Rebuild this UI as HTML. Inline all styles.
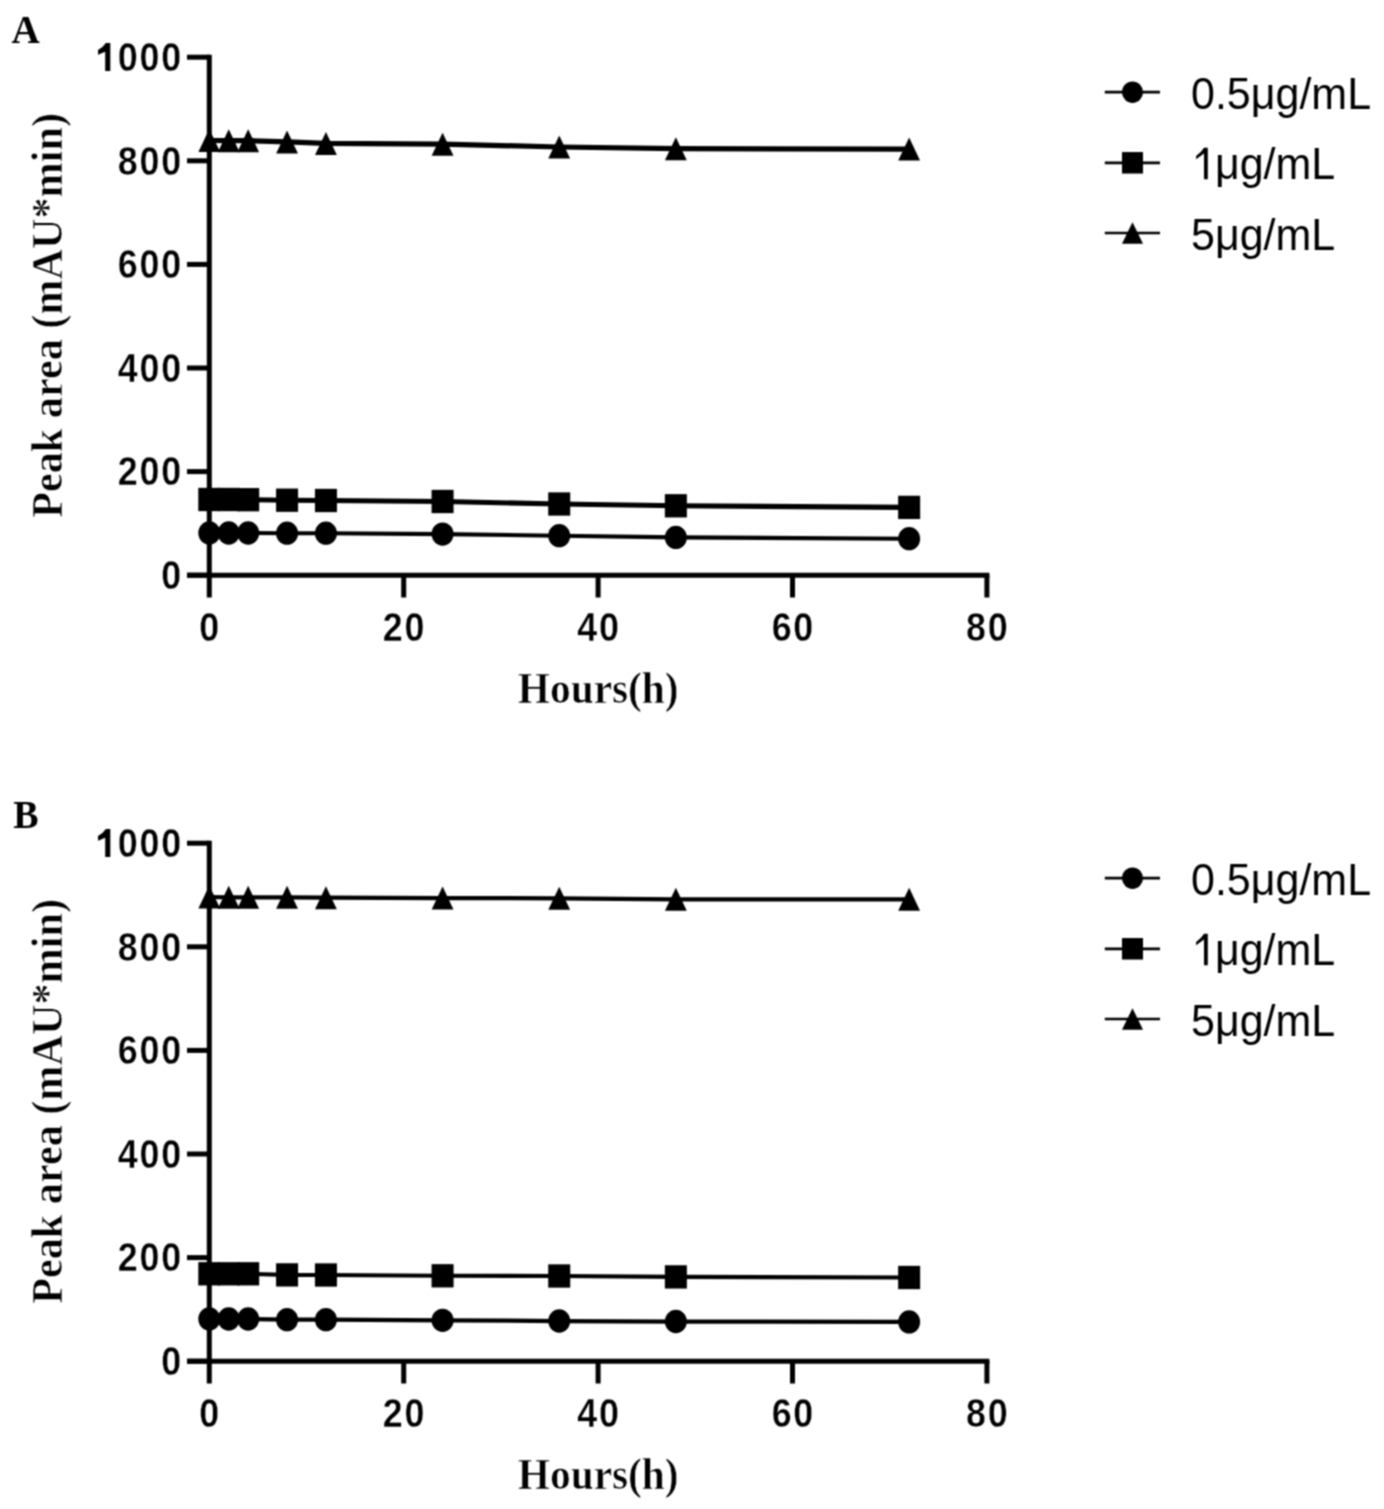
<!DOCTYPE html>
<html><head><meta charset="utf-8"><title>Peak area vs Hours</title>
<style>html,body{margin:0;padding:0;background:#fff;overflow:hidden;}svg{display:block;}#w{width:1384px;height:1509px;filter:grayscale(1);}</style></head>
<body><div id="w"><svg width="1384" height="1509" viewBox="0 0 1384 1509">
<defs><filter id="soft" filterUnits="userSpaceOnUse" x="0" y="0" width="1384" height="1509" color-interpolation-filters="sRGB"><feConvolveMatrix order="3" kernelMatrix="1 2 1 2 4 2 1 2 1" divisor="16" edgeMode="duplicate"/></filter></defs>
<g filter="url(#soft)">
<rect width="1384" height="1509" fill="#fff"/>
<g stroke="#000" stroke-width="5" fill="none">
<path d="M209.3 54.7V597.5"/>
<path d="M187 575.2H209.3"/>
<path d="M187 471.6H209.3"/>
<path d="M187 368H209.3"/>
<path d="M187 264.4H209.3"/>
<path d="M187 160.8H209.3"/>
<path d="M187 57.2H209.3"/>
<path d="M187 575.2H989.4"/>
<path d="M403.7 575.2V597.5"/>
<path d="M598.1 575.2V597.5"/>
<path d="M792.5 575.2V597.5"/>
<path d="M986.9 575.2V597.5"/>
</g>
<g font-family="Liberation Sans, sans-serif" font-weight="bold" font-size="39" fill="#000">
<text transform="translate(0 589) scale(0.92 1.041)" x="175.2" y="0" stroke="#fff" stroke-width="0.4">0</text>
<text transform="translate(0 485.4) scale(0.92 1.041)" x="128.06 151.63 175.2" y="0" stroke="#fff" stroke-width="0.4">200</text>
<text transform="translate(0 381.8) scale(0.92 1.041)" x="128.06 151.63 175.2" y="0" stroke="#fff" stroke-width="0.4">400</text>
<text transform="translate(0 278.2) scale(0.92 1.041)" x="128.06 151.63 175.2" y="0" stroke="#fff" stroke-width="0.4">600</text>
<text transform="translate(0 174.6) scale(0.92 1.041)" x="128.06 151.63 175.2" y="0" stroke="#fff" stroke-width="0.4">800</text>
<path transform="translate(95.26 71) scale(1 1.041)" d="M10.6,-26.8H15.05V0H9.95V-18.5L2.75,-15.7V-20.1Q7.6,-22.4 10.6,-26.8Z"/><text transform="translate(0 71) scale(0.92 1.041)" x="128.06 151.63 175.2" y="0" stroke="#fff" stroke-width="0.4">000</text>
<text transform="translate(0 641) scale(0.92 1.041)" x="216.66" y="0" stroke="#fff" stroke-width="0.4">0</text>
<text transform="translate(0 641) scale(0.92 1.041)" x="416.18 439.75" y="0" stroke="#fff" stroke-width="0.4">20</text>
<text transform="translate(0 641) scale(0.92 1.041)" x="627.48 651.05" y="0" stroke="#fff" stroke-width="0.4">40</text>
<text transform="translate(0 641) scale(0.92 1.041)" x="838.79 862.36" y="0" stroke="#fff" stroke-width="0.4">60</text>
<text transform="translate(0 641) scale(0.92 1.041)" x="1050.09 1073.66" y="0" stroke="#fff" stroke-width="0.4">80</text>
</g>
<polyline points="209.3,533 228.74,533 248.18,533 287.06,533.2 325.94,533.2 442.58,534.1 559.22,535.7 675.86,537.4 909.14,538.7" fill="none" stroke="#000" stroke-width="4.15" stroke-linejoin="round"/>
<g fill="#000"><ellipse cx="209.3" cy="533" rx="11" ry="11.65"/><ellipse cx="228.74" cy="533" rx="11" ry="11.65"/><ellipse cx="248.18" cy="533" rx="11" ry="11.65"/><ellipse cx="287.06" cy="533.2" rx="11" ry="11.65"/><ellipse cx="325.94" cy="533.2" rx="11" ry="11.65"/><ellipse cx="442.58" cy="534.1" rx="11" ry="11.65"/><ellipse cx="559.22" cy="535.7" rx="11" ry="11.65"/><ellipse cx="675.86" cy="537.4" rx="11" ry="11.65"/><ellipse cx="909.14" cy="538.7" rx="11" ry="11.65"/></g>
<polyline points="209.3,499.5 228.74,499.5 248.18,499.7 287.06,500.2 325.94,500.5 442.58,501.5 559.22,504 675.86,505.8 909.14,507.4" fill="none" stroke="#000" stroke-width="5.1" stroke-linejoin="round"/>
<g fill="#000"><rect x="198.3" y="487.85" width="22" height="23.3"/><rect x="217.74" y="487.85" width="22" height="23.3"/><rect x="237.18" y="488.05" width="22" height="23.3"/><rect x="276.06" y="488.55" width="22" height="23.3"/><rect x="314.94" y="488.85" width="22" height="23.3"/><rect x="431.58" y="489.85" width="22" height="23.3"/><rect x="548.22" y="492.35" width="22" height="23.3"/><rect x="664.86" y="494.15" width="22" height="23.3"/><rect x="898.14" y="495.75" width="22" height="23.3"/></g>
<polyline points="209.3,140.5 228.74,140.7 248.18,140.7 287.06,141.9 325.94,143.4 442.58,144.2 559.22,147 675.86,148.7 909.14,149" fill="none" stroke="#000" stroke-width="5.25" stroke-linejoin="round"/>
<g fill="#000"><path d="M209.3 129L220.2 152L198.4 152Z"/><path d="M228.74 129.2L239.64 152.2L217.84 152.2Z"/><path d="M248.18 129.2L259.08 152.2L237.28 152.2Z"/><path d="M287.06 130.4L297.96 153.4L276.16 153.4Z"/><path d="M325.94 131.9L336.84 154.9L315.04 154.9Z"/><path d="M442.58 132.7L453.48 155.7L431.68 155.7Z"/><path d="M559.22 135.5L570.12 158.5L548.32 158.5Z"/><path d="M675.86 137.2L686.76 160.2L664.96 160.2Z"/><path d="M909.14 137.5L920.04 160.5L898.24 160.5Z"/></g>
<path d="M1104.8 92.2H1160" stroke="#000" stroke-width="2.7"/>
<g fill="#000"><ellipse cx="1132.5" cy="92.2" rx="10.5" ry="10.75"/></g>
<text transform="translate(1191 108.7) scale(1 1.041)" font-family="Liberation Sans, sans-serif" font-size="43">0.5μg/mL</text>
<path d="M1104.8 162.8H1160" stroke="#000" stroke-width="2.7"/>
<g fill="#000"><rect x="1122" y="152.05" width="21" height="21.5"/></g>
<g transform="translate(1191 179.3) scale(1 1.041)" font-family="Liberation Sans, sans-serif" font-size="43"><path d="M13,-30.25H16.8V0H13V-24.9L5.1,-19.2V-22.4Q9.8,-25.3 13,-30.25Z"/><text x="23.91" y="0">μg/mL</text></g>
<path d="M1104.8 233H1160" stroke="#000" stroke-width="2.7"/>
<g fill="#000"><path d="M1132.5 222.25L1143 243.75L1122 243.75Z"/></g>
<text transform="translate(1191 249.5) scale(1 1.041)" font-family="Liberation Sans, sans-serif" font-size="43">5μg/mL</text>
<text transform="translate(11.6 43.4) scale(1.03 1.07)" font-family="Liberation Serif, serif" font-weight="bold" font-size="38">A</text>
<text transform="translate(598.2 702.7) scale(0.985 1.05)" text-anchor="middle" font-family="Liberation Serif, serif" font-weight="bold" font-size="42" stroke="#fff" stroke-width="0.6">Hours(h)</text>
<text transform="translate(62.2 315.4) rotate(-90) scale(1.0055 1.06)" text-anchor="middle" font-family="Liberation Serif, serif" font-weight="bold" font-size="42" stroke="#fff" stroke-width="0.6">Peak area (mAU*min)</text>
<g stroke="#000" stroke-width="5" fill="none">
<path d="M209.3 840.7V1383.5"/>
<path d="M187 1361.2H209.3"/>
<path d="M187 1257.6H209.3"/>
<path d="M187 1154H209.3"/>
<path d="M187 1050.4H209.3"/>
<path d="M187 946.8H209.3"/>
<path d="M187 843.2H209.3"/>
<path d="M187 1361.2H989.4"/>
<path d="M403.7 1361.2V1383.5"/>
<path d="M598.1 1361.2V1383.5"/>
<path d="M792.5 1361.2V1383.5"/>
<path d="M986.9 1361.2V1383.5"/>
</g>
<g font-family="Liberation Sans, sans-serif" font-weight="bold" font-size="39" fill="#000">
<text transform="translate(0 1375) scale(0.92 1.041)" x="175.2" y="0" stroke="#fff" stroke-width="0.4">0</text>
<text transform="translate(0 1271.4) scale(0.92 1.041)" x="128.06 151.63 175.2" y="0" stroke="#fff" stroke-width="0.4">200</text>
<text transform="translate(0 1167.8) scale(0.92 1.041)" x="128.06 151.63 175.2" y="0" stroke="#fff" stroke-width="0.4">400</text>
<text transform="translate(0 1064.2) scale(0.92 1.041)" x="128.06 151.63 175.2" y="0" stroke="#fff" stroke-width="0.4">600</text>
<text transform="translate(0 960.6) scale(0.92 1.041)" x="128.06 151.63 175.2" y="0" stroke="#fff" stroke-width="0.4">800</text>
<path transform="translate(95.26 857) scale(1 1.041)" d="M10.6,-26.8H15.05V0H9.95V-18.5L2.75,-15.7V-20.1Q7.6,-22.4 10.6,-26.8Z"/><text transform="translate(0 857) scale(0.92 1.041)" x="128.06 151.63 175.2" y="0" stroke="#fff" stroke-width="0.4">000</text>
<text transform="translate(0 1427) scale(0.92 1.041)" x="216.66" y="0" stroke="#fff" stroke-width="0.4">0</text>
<text transform="translate(0 1427) scale(0.92 1.041)" x="416.18 439.75" y="0" stroke="#fff" stroke-width="0.4">20</text>
<text transform="translate(0 1427) scale(0.92 1.041)" x="627.48 651.05" y="0" stroke="#fff" stroke-width="0.4">40</text>
<text transform="translate(0 1427) scale(0.92 1.041)" x="838.79 862.36" y="0" stroke="#fff" stroke-width="0.4">60</text>
<text transform="translate(0 1427) scale(0.92 1.041)" x="1050.09 1073.66" y="0" stroke="#fff" stroke-width="0.4">80</text>
</g>
<polyline points="209.3,1319 228.74,1319 248.18,1319 287.06,1319.7 325.94,1319.7 442.58,1320.3 559.22,1321 675.86,1321.5 909.14,1321.9" fill="none" stroke="#000" stroke-width="4.25" stroke-linejoin="round"/>
<g fill="#000"><ellipse cx="209.3" cy="1319" rx="11" ry="11.65"/><ellipse cx="228.74" cy="1319" rx="11" ry="11.65"/><ellipse cx="248.18" cy="1319" rx="11" ry="11.65"/><ellipse cx="287.06" cy="1319.7" rx="11" ry="11.65"/><ellipse cx="325.94" cy="1319.7" rx="11" ry="11.65"/><ellipse cx="442.58" cy="1320.3" rx="11" ry="11.65"/><ellipse cx="559.22" cy="1321" rx="11" ry="11.65"/><ellipse cx="675.86" cy="1321.5" rx="11" ry="11.65"/><ellipse cx="909.14" cy="1321.9" rx="11" ry="11.65"/></g>
<polyline points="209.3,1273.8 228.74,1273.8 248.18,1273.8 287.06,1274.9 325.94,1275 442.58,1275.8 559.22,1276 675.86,1276.9 909.14,1277.5" fill="none" stroke="#000" stroke-width="4.1" stroke-linejoin="round"/>
<g fill="#000"><rect x="198.3" y="1262.15" width="22" height="23.3"/><rect x="217.74" y="1262.15" width="22" height="23.3"/><rect x="237.18" y="1262.15" width="22" height="23.3"/><rect x="276.06" y="1263.25" width="22" height="23.3"/><rect x="314.94" y="1263.35" width="22" height="23.3"/><rect x="431.58" y="1264.15" width="22" height="23.3"/><rect x="548.22" y="1264.35" width="22" height="23.3"/><rect x="664.86" y="1265.25" width="22" height="23.3"/><rect x="898.14" y="1265.85" width="22" height="23.3"/></g>
<polyline points="209.3,897 228.74,897.3 248.18,897.3 287.06,897.3 325.94,897.7 442.58,898 559.22,898.3 675.86,899.3 909.14,899.3" fill="none" stroke="#000" stroke-width="4.25" stroke-linejoin="round"/>
<g fill="#000"><path d="M209.3 885.5L220.2 908.5L198.4 908.5Z"/><path d="M228.74 885.8L239.64 908.8L217.84 908.8Z"/><path d="M248.18 885.8L259.08 908.8L237.28 908.8Z"/><path d="M287.06 885.8L297.96 908.8L276.16 908.8Z"/><path d="M325.94 886.2L336.84 909.2L315.04 909.2Z"/><path d="M442.58 886.5L453.48 909.5L431.68 909.5Z"/><path d="M559.22 886.8L570.12 909.8L548.32 909.8Z"/><path d="M675.86 887.8L686.76 910.8L664.96 910.8Z"/><path d="M909.14 887.8L920.04 910.8L898.24 910.8Z"/></g>
<path d="M1104.8 878.2H1160" stroke="#000" stroke-width="2.7"/>
<g fill="#000"><ellipse cx="1132.5" cy="878.2" rx="10.5" ry="10.75"/></g>
<text transform="translate(1191 894.7) scale(1 1.041)" font-family="Liberation Sans, sans-serif" font-size="43">0.5μg/mL</text>
<path d="M1104.8 948.8H1160" stroke="#000" stroke-width="2.7"/>
<g fill="#000"><rect x="1122" y="938.05" width="21" height="21.5"/></g>
<g transform="translate(1191 965.3) scale(1 1.041)" font-family="Liberation Sans, sans-serif" font-size="43"><path d="M13,-30.25H16.8V0H13V-24.9L5.1,-19.2V-22.4Q9.8,-25.3 13,-30.25Z"/><text x="23.91" y="0">μg/mL</text></g>
<path d="M1104.8 1019H1160" stroke="#000" stroke-width="2.7"/>
<g fill="#000"><path d="M1132.5 1008.25L1143 1029.75L1122 1029.75Z"/></g>
<text transform="translate(1191 1035.5) scale(1 1.041)" font-family="Liberation Sans, sans-serif" font-size="43">5μg/mL</text>
<text transform="translate(13.2 827.6) scale(1.0 1.03)" font-family="Liberation Serif, serif" font-weight="bold" font-size="38">B</text>
<text transform="translate(598.2 1488.7) scale(0.985 1.05)" text-anchor="middle" font-family="Liberation Serif, serif" font-weight="bold" font-size="42" stroke="#fff" stroke-width="0.6">Hours(h)</text>
<text transform="translate(62.2 1101.4) rotate(-90) scale(1.0055 1.06)" text-anchor="middle" font-family="Liberation Serif, serif" font-weight="bold" font-size="42" stroke="#fff" stroke-width="0.6">Peak area (mAU*min)</text>
</g>
</svg></div></body></html>
